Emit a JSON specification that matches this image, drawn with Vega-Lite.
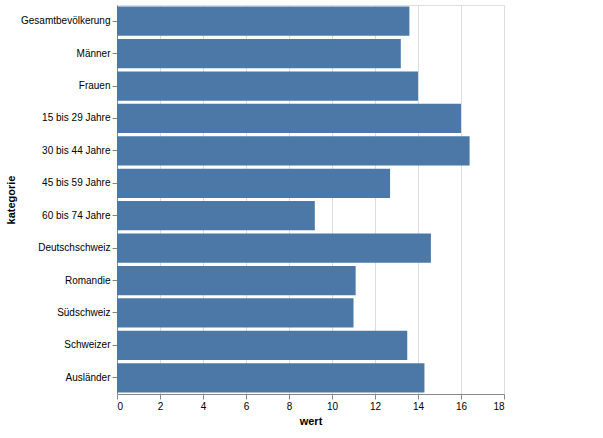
{
  "$schema": "https://vega.github.io/schema/vega-lite/v6.json",
  "width": 387,
  "height": 389,
  "data": {
    "values": [
      {"kategorie": "Gesamtbevölkerung", "wert": 13.6},
      {"kategorie": "Männer", "wert": 13.2},
      {"kategorie": "Frauen", "wert": 14.0},
      {"kategorie": "15 bis 29 Jahre", "wert": 16.0},
      {"kategorie": "30 bis 44 Jahre", "wert": 16.4},
      {"kategorie": "45 bis 59 Jahre", "wert": 12.7},
      {"kategorie": "60 bis 74 Jahre", "wert": 9.2},
      {"kategorie": "Deutschschweiz", "wert": 14.6},
      {"kategorie": "Romandie", "wert": 11.1},
      {"kategorie": "Südschweiz", "wert": 11.0},
      {"kategorie": "Schweizer", "wert": 13.5},
      {"kategorie": "Ausländer", "wert": 14.3}
    ]
  },
  "mark": "bar",
  "encoding": {
    "y": {"field": "kategorie", "type": "nominal", "sort": null},
    "x": {"field": "wert", "type": "quantitative"}
  }
}
